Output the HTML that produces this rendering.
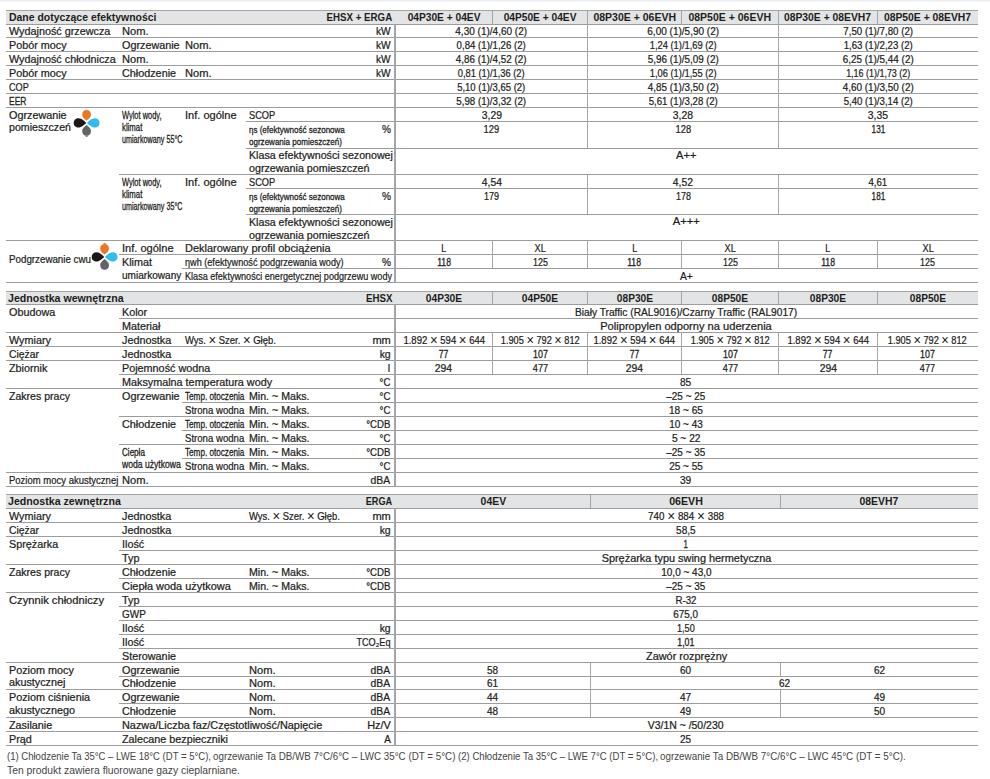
<!DOCTYPE html>
<html lang="pl"><head><meta charset="utf-8"><title>Dane techniczne</title>
<style>
html,body{margin:0;padding:0;background:#fff}
body{width:990px;height:779px;position:relative;overflow:hidden;font-family:"Liberation Sans",sans-serif;font-size:10.1px;color:#1d1d1b}
#topbar{position:absolute;left:0;top:0;width:990px;height:1px;background:#ebeef4;border-bottom:1px solid #f6f7fa}
svg{position:absolute;left:0;top:0}
.t{position:absolute;white-space:nowrap;line-height:12px;height:12px;-webkit-text-stroke:0.22px #1d1d1b}
.c{-webkit-text-stroke-width:0.28px}
.f{color:#454545;-webkit-text-stroke:0}
.b{font-weight:700;-webkit-text-stroke:0}
.x{font-size:14px;line-height:0;position:relative;top:1px;-webkit-text-stroke:0}
</style></head><body>
<div id="topbar"></div>
<svg width="990" height="779" viewBox="0 0 990 779">
<rect x="6.0" y="10.5" width="972.0" height="14.0" fill="#e3e4e5"/>
<rect x="6.0" y="291.5" width="972.0" height="13.0" fill="#e3e4e5"/>
<rect x="6.0" y="494.5" width="972.0" height="14.0" fill="#e3e4e5"/>
<line x1="6.0" y1="10.5" x2="978.0" y2="10.5" stroke="#a4a4a4" stroke-width="1.0"/>
<line x1="492.5" y1="10.5" x2="492.5" y2="24.5" stroke="#a4a4a4" stroke-width="1.0"/>
<line x1="587.5" y1="10.5" x2="587.5" y2="24.5" stroke="#a4a4a4" stroke-width="1.0"/>
<line x1="681.5" y1="10.5" x2="681.5" y2="24.5" stroke="#a4a4a4" stroke-width="1.0"/>
<line x1="778.5" y1="10.5" x2="778.5" y2="24.5" stroke="#a4a4a4" stroke-width="1.0"/>
<line x1="877.5" y1="10.5" x2="877.5" y2="24.5" stroke="#a4a4a4" stroke-width="1.0"/>
<line x1="6.0" y1="24.5" x2="978.0" y2="24.5" stroke="#9c9c9c" stroke-width="1.0"/>
<line x1="6.0" y1="37.5" x2="978.0" y2="37.5" stroke="#9c9c9c" stroke-width="1.0"/>
<line x1="6.0" y1="51.5" x2="978.0" y2="51.5" stroke="#9c9c9c" stroke-width="1.0"/>
<line x1="6.0" y1="65.5" x2="978.0" y2="65.5" stroke="#9c9c9c" stroke-width="1.0"/>
<line x1="6.0" y1="79.5" x2="978.0" y2="79.5" stroke="#9c9c9c" stroke-width="1.0"/>
<line x1="6.0" y1="93.5" x2="978.0" y2="93.5" stroke="#9c9c9c" stroke-width="1.0"/>
<line x1="6.0" y1="107.5" x2="978.0" y2="107.5" stroke="#9c9c9c" stroke-width="1.0"/>
<line x1="246.0" y1="121.5" x2="978.0" y2="121.5" stroke="#9c9c9c" stroke-width="1.0"/>
<line x1="246.0" y1="148.5" x2="978.0" y2="148.5" stroke="#9c9c9c" stroke-width="1.0"/>
<line x1="119.0" y1="174.5" x2="978.0" y2="174.5" stroke="#9c9c9c" stroke-width="1.0"/>
<line x1="246.0" y1="188.5" x2="978.0" y2="188.5" stroke="#9c9c9c" stroke-width="1.0"/>
<line x1="246.0" y1="214.5" x2="978.0" y2="214.5" stroke="#9c9c9c" stroke-width="1.0"/>
<line x1="6.0" y1="240.5" x2="978.0" y2="240.5" stroke="#9c9c9c" stroke-width="1.0"/>
<line x1="119.0" y1="254.5" x2="978.0" y2="254.5" stroke="#9c9c9c" stroke-width="1.0"/>
<line x1="182.0" y1="268.5" x2="978.0" y2="268.5" stroke="#9c9c9c" stroke-width="1.0"/>
<line x1="6.0" y1="282.5" x2="978.0" y2="282.5" stroke="#9c9c9c" stroke-width="1.0"/>
<line x1="395.0" y1="24.5" x2="395.0" y2="282.5" stroke="#a4a5a7" stroke-width="2.0"/>
<line x1="587.5" y1="24.5" x2="587.5" y2="148.5" stroke="#a6a6a6" stroke-width="1.0"/>
<line x1="587.5" y1="174.5" x2="587.5" y2="214.5" stroke="#a6a6a6" stroke-width="1.0"/>
<line x1="587.5" y1="240.5" x2="587.5" y2="268.5" stroke="#a6a6a6" stroke-width="1.0"/>
<line x1="778.5" y1="24.5" x2="778.5" y2="148.5" stroke="#a6a6a6" stroke-width="1.0"/>
<line x1="778.5" y1="174.5" x2="778.5" y2="214.5" stroke="#a6a6a6" stroke-width="1.0"/>
<line x1="778.5" y1="240.5" x2="778.5" y2="268.5" stroke="#a6a6a6" stroke-width="1.0"/>
<line x1="492.5" y1="240.5" x2="492.5" y2="268.5" stroke="#a6a6a6" stroke-width="1.0"/>
<line x1="681.5" y1="240.5" x2="681.5" y2="268.5" stroke="#a6a6a6" stroke-width="1.0"/>
<line x1="877.5" y1="240.5" x2="877.5" y2="268.5" stroke="#a6a6a6" stroke-width="1.0"/>
<line x1="6.0" y1="291.5" x2="978.0" y2="291.5" stroke="#a4a4a4" stroke-width="1.0"/>
<line x1="492.5" y1="291.5" x2="492.5" y2="304.5" stroke="#a4a4a4" stroke-width="1.0"/>
<line x1="587.5" y1="291.5" x2="587.5" y2="304.5" stroke="#a4a4a4" stroke-width="1.0"/>
<line x1="681.5" y1="291.5" x2="681.5" y2="304.5" stroke="#a4a4a4" stroke-width="1.0"/>
<line x1="778.5" y1="291.5" x2="778.5" y2="304.5" stroke="#a4a4a4" stroke-width="1.0"/>
<line x1="877.5" y1="291.5" x2="877.5" y2="304.5" stroke="#a4a4a4" stroke-width="1.0"/>
<line x1="6.0" y1="304.5" x2="978.0" y2="304.5" stroke="#9c9c9c" stroke-width="1.0"/>
<line x1="119.0" y1="318.5" x2="978.0" y2="318.5" stroke="#9c9c9c" stroke-width="1.0"/>
<line x1="6.0" y1="332.5" x2="978.0" y2="332.5" stroke="#9c9c9c" stroke-width="1.0"/>
<line x1="6.0" y1="346.5" x2="978.0" y2="346.5" stroke="#9c9c9c" stroke-width="1.0"/>
<line x1="6.0" y1="360.5" x2="978.0" y2="360.5" stroke="#9c9c9c" stroke-width="1.0"/>
<line x1="119.0" y1="374.5" x2="978.0" y2="374.5" stroke="#9c9c9c" stroke-width="1.0"/>
<line x1="6.0" y1="388.5" x2="978.0" y2="388.5" stroke="#9c9c9c" stroke-width="1.0"/>
<line x1="182.0" y1="402.5" x2="978.0" y2="402.5" stroke="#9c9c9c" stroke-width="1.0"/>
<line x1="119.0" y1="416.5" x2="978.0" y2="416.5" stroke="#9c9c9c" stroke-width="1.0"/>
<line x1="182.0" y1="430.5" x2="978.0" y2="430.5" stroke="#9c9c9c" stroke-width="1.0"/>
<line x1="119.0" y1="444.5" x2="978.0" y2="444.5" stroke="#9c9c9c" stroke-width="1.0"/>
<line x1="182.0" y1="458.5" x2="978.0" y2="458.5" stroke="#9c9c9c" stroke-width="1.0"/>
<line x1="6.0" y1="472.5" x2="978.0" y2="472.5" stroke="#9c9c9c" stroke-width="1.0"/>
<line x1="6.0" y1="486.5" x2="978.0" y2="486.5" stroke="#9c9c9c" stroke-width="1.0"/>
<line x1="395.0" y1="304.5" x2="395.0" y2="486.5" stroke="#a4a5a7" stroke-width="2.0"/>
<line x1="492.5" y1="332.5" x2="492.5" y2="374.5" stroke="#a6a6a6" stroke-width="1.0"/>
<line x1="587.5" y1="332.5" x2="587.5" y2="374.5" stroke="#a6a6a6" stroke-width="1.0"/>
<line x1="681.5" y1="332.5" x2="681.5" y2="374.5" stroke="#a6a6a6" stroke-width="1.0"/>
<line x1="778.5" y1="332.5" x2="778.5" y2="374.5" stroke="#a6a6a6" stroke-width="1.0"/>
<line x1="877.5" y1="332.5" x2="877.5" y2="374.5" stroke="#a6a6a6" stroke-width="1.0"/>
<line x1="6.0" y1="494.5" x2="978.0" y2="494.5" stroke="#a4a4a4" stroke-width="1.0"/>
<line x1="590.5" y1="494.5" x2="590.5" y2="508.5" stroke="#a4a4a4" stroke-width="1.0"/>
<line x1="780.5" y1="494.5" x2="780.5" y2="508.5" stroke="#a4a4a4" stroke-width="1.0"/>
<line x1="6.0" y1="508.5" x2="978.0" y2="508.5" stroke="#9c9c9c" stroke-width="1.0"/>
<line x1="6.0" y1="522.5" x2="978.0" y2="522.5" stroke="#9c9c9c" stroke-width="1.0"/>
<line x1="6.0" y1="536.5" x2="978.0" y2="536.5" stroke="#9c9c9c" stroke-width="1.0"/>
<line x1="119.0" y1="550.5" x2="978.0" y2="550.5" stroke="#9c9c9c" stroke-width="1.0"/>
<line x1="6.0" y1="564.5" x2="978.0" y2="564.5" stroke="#9c9c9c" stroke-width="1.0"/>
<line x1="119.0" y1="578.5" x2="978.0" y2="578.5" stroke="#9c9c9c" stroke-width="1.0"/>
<line x1="6.0" y1="592.5" x2="978.0" y2="592.5" stroke="#9c9c9c" stroke-width="1.0"/>
<line x1="119.0" y1="606.5" x2="978.0" y2="606.5" stroke="#9c9c9c" stroke-width="1.0"/>
<line x1="119.0" y1="620.5" x2="978.0" y2="620.5" stroke="#9c9c9c" stroke-width="1.0"/>
<line x1="119.0" y1="634.5" x2="978.0" y2="634.5" stroke="#9c9c9c" stroke-width="1.0"/>
<line x1="119.0" y1="648.5" x2="978.0" y2="648.5" stroke="#9c9c9c" stroke-width="1.0"/>
<line x1="6.0" y1="662.5" x2="978.0" y2="662.5" stroke="#9c9c9c" stroke-width="1.0"/>
<line x1="119.0" y1="676.5" x2="978.0" y2="676.5" stroke="#9c9c9c" stroke-width="1.0"/>
<line x1="6.0" y1="689.5" x2="978.0" y2="689.5" stroke="#9c9c9c" stroke-width="1.0"/>
<line x1="119.0" y1="703.5" x2="978.0" y2="703.5" stroke="#9c9c9c" stroke-width="1.0"/>
<line x1="6.0" y1="717.5" x2="978.0" y2="717.5" stroke="#9c9c9c" stroke-width="1.0"/>
<line x1="6.0" y1="731.5" x2="978.0" y2="731.5" stroke="#9c9c9c" stroke-width="1.0"/>
<line x1="6.0" y1="745.5" x2="978.0" y2="745.5" stroke="#9c9c9c" stroke-width="1.0"/>
<line x1="395.0" y1="508.5" x2="395.0" y2="745.5" stroke="#a4a5a7" stroke-width="2.0"/>
<line x1="590.5" y1="662.5" x2="590.5" y2="717.5" stroke="#a6a6a6" stroke-width="1.0"/>
<line x1="780.5" y1="662.5" x2="780.5" y2="676.5" stroke="#a6a6a6" stroke-width="1.0"/>
<line x1="780.5" y1="689.5" x2="780.5" y2="717.5" stroke="#a6a6a6" stroke-width="1.0"/>
<g transform="translate(86.6,122.9)"><path d="M0,-2.2 C-1.5,-3.40 -4.4,-5.30 -4.4,-8.3 C-4.4,-10.80 -2.64,-12.9 0,-12.9 C2.64,-12.9 4.4,-10.80 4.4,-8.3 C4.4,-5.30 1.5,-3.40 0,-2.2 Z" fill="#ee7623"/><path d="M0,-0.5 C-1.5,-1.70 -4.6,-5.20 -4.6,-8.2 C-4.6,-10.70 -2.76,-12.9 0,-12.9 C2.76,-12.9 4.6,-10.70 4.6,-8.2 C4.6,-5.20 1.5,-1.70 0,-0.5 Z" fill="#2fbcee" transform="rotate(90)"/><path d="M0,-2.2 C-1.5,-3.40 -4.4,-5.30 -4.4,-8.3 C-4.4,-10.80 -2.64,-12.9 0,-12.9 C2.64,-12.9 4.4,-10.80 4.4,-8.3 C4.4,-5.30 1.5,-3.40 0,-2.2 Z" fill="#636467" transform="rotate(180)"/><rect x="-1.1" y="12.5" width="2.2" height="1.4" rx="0.5" fill="#636467"/><path d="M0,-0.5 C-1.5,-1.70 -4.6,-5.20 -4.6,-8.2 C-4.6,-10.70 -2.76,-12.9 0,-12.9 C2.76,-12.9 4.6,-10.70 4.6,-8.2 C4.6,-5.20 1.5,-1.70 0,-0.5 Z" fill="#1a1718" transform="rotate(270)"/></g><g transform="translate(104.6,256.9)"><path d="M0,-2.2 C-1.5,-3.40 -4.4,-5.30 -4.4,-8.3 C-4.4,-10.80 -2.64,-12.9 0,-12.9 C2.64,-12.9 4.4,-10.80 4.4,-8.3 C4.4,-5.30 1.5,-3.40 0,-2.2 Z" fill="#ee7623"/><rect x="-1.1" y="-13.8" width="2.2" height="1.4" rx="0.5" fill="#ee7623"/><path d="M0,-0.5 C-1.5,-1.70 -4.6,-5.20 -4.6,-8.2 C-4.6,-10.70 -2.76,-12.9 0,-12.9 C2.76,-12.9 4.6,-10.70 4.6,-8.2 C4.6,-5.20 1.5,-1.70 0,-0.5 Z" fill="#2fbcee" transform="rotate(90)"/><path d="M0,-2.2 C-1.5,-3.40 -4.4,-5.30 -4.4,-8.3 C-4.4,-10.80 -2.64,-12.9 0,-12.9 C2.64,-12.9 4.4,-10.80 4.4,-8.3 C4.4,-5.30 1.5,-3.40 0,-2.2 Z" fill="#636467" transform="rotate(180)"/><path d="M0,-0.5 C-1.5,-1.70 -4.6,-5.20 -4.6,-8.2 C-4.6,-10.70 -2.76,-12.9 0,-12.9 C2.76,-12.9 4.6,-10.70 4.6,-8.2 C4.6,-5.20 1.5,-1.70 0,-0.5 Z" fill="#1a1718" transform="rotate(270)"/></g>
</svg>
<span class="t b" style="left:8.60px;top:12.00px;transform:scaleX(1.0351);transform-origin:0 50%">Dane dotyczące efektywności</span>
<span class="t b" style="left:324.44px;top:12.00px;transform:scaleX(0.9625);transform-origin:100% 50%">EHSX + ERGA</span>
<span class="t b" style="left:407.79px;top:12.00px;transform:scaleX(1.0094);transform-origin:50% 50%">04P30E + 04EV</span>
<span class="t b" style="left:503.94px;top:12.00px;transform:scaleX(1.0094);transform-origin:50% 50%">04P50E + 04EV</span>
<span class="t b" style="left:594.80px;top:12.00px;transform:scaleX(1.0390);transform-origin:50% 50%">08P30E + 06EVH</span>
<span class="t b" style="left:690.30px;top:12.00px;transform:scaleX(1.0390);transform-origin:50% 50%">08P50E + 06EVH</span>
<span class="t b" style="left:785.48px;top:12.00px;transform:scaleX(1.0255);transform-origin:50% 50%">08P30E + 08EVH7</span>
<span class="t b" style="left:885.23px;top:12.00px;transform:scaleX(1.0255);transform-origin:50% 50%">08P50E + 08EVH7</span>
<span class="t" style="left:8.50px;top:26.00px;transform:scaleX(1.0700);transform-origin:0 50%">Wydajność grzewcza</span>
<span class="t" style="left:122.00px;top:26.00px;transform:scaleX(1.1026);transform-origin:0 50%">Nom.</span>
<span class="t" style="left:375.82px;top:26.00px;transform:scaleX(1.0015);transform-origin:100% 50%">kW</span>
<span class="t" style="left:455.15px;top:26.00px;transform:scaleX(0.9918);transform-origin:50% 50%">4,30 (1)/4,60 (2)</span>
<span class="t" style="left:646.80px;top:26.00px;transform:scaleX(0.9918);transform-origin:50% 50%">6,00 (1)/5,90 (2)</span>
<span class="t" style="left:842.05px;top:26.00px;transform:scaleX(0.9642);transform-origin:50% 50%">7,50 (1)/7,80 (2)</span>
<span class="t" style="left:8.50px;top:40.00px;transform:scaleX(1.0700);transform-origin:0 50%">Pobór mocy</span>
<span class="t" style="left:122.00px;top:40.00px;transform:scaleX(1.0700);transform-origin:0 50%">Ogrzewanie</span>
<span class="t" style="left:185.00px;top:40.00px;transform:scaleX(1.1026);transform-origin:0 50%">Nom.</span>
<span class="t" style="left:375.82px;top:40.00px;transform:scaleX(1.0015);transform-origin:100% 50%">kW</span>
<span class="t" style="left:455.15px;top:40.00px;transform:scaleX(0.9559);transform-origin:50% 50%">0,84 (1)/1,26 (2)</span>
<span class="t" style="left:646.80px;top:40.00px;transform:scaleX(0.9255);transform-origin:50% 50%">1,24 (1)/1,69 (2)</span>
<span class="t" style="left:842.05px;top:40.00px;transform:scaleX(0.9532);transform-origin:50% 50%">1,63 (1)/2,23 (2)</span>
<span class="t" style="left:8.50px;top:54.00px;transform:scaleX(1.0700);transform-origin:0 50%">Wydajność chłodnicza</span>
<span class="t" style="left:122.00px;top:54.00px;transform:scaleX(1.1026);transform-origin:0 50%">Nom.</span>
<span class="t" style="left:375.82px;top:54.00px;transform:scaleX(1.0015);transform-origin:100% 50%">kW</span>
<span class="t" style="left:455.15px;top:54.00px;transform:scaleX(0.9780);transform-origin:50% 50%">4,86 (1)/4,52 (2)</span>
<span class="t" style="left:646.80px;top:54.00px;transform:scaleX(0.9808);transform-origin:50% 50%">5,96 (1)/5,09 (2)</span>
<span class="t" style="left:842.05px;top:54.00px;transform:scaleX(0.9808);transform-origin:50% 50%">6,25 (1)/5,44 (2)</span>
<span class="t" style="left:8.50px;top:68.00px;transform:scaleX(1.0700);transform-origin:0 50%">Pobór mocy</span>
<span class="t" style="left:122.00px;top:68.00px;transform:scaleX(1.0700);transform-origin:0 50%">Chłodzenie</span>
<span class="t" style="left:185.00px;top:68.00px;transform:scaleX(1.1026);transform-origin:0 50%">Nom.</span>
<span class="t" style="left:375.82px;top:68.00px;transform:scaleX(1.0015);transform-origin:100% 50%">kW</span>
<span class="t" style="left:455.15px;top:68.00px;transform:scaleX(0.9255);transform-origin:50% 50%">0,81 (1)/1,36 (2)</span>
<span class="t" style="left:646.80px;top:68.00px;transform:scaleX(0.9255);transform-origin:50% 50%">1,06 (1)/1,55 (2)</span>
<span class="t" style="left:842.05px;top:68.00px;transform:scaleX(0.8855);transform-origin:50% 50%">1,16 (1)/1,73 (2)</span>
<span class="t" style="left:8.50px;top:82.00px;transform:scaleX(0.9051);transform-origin:0 50%">COP</span>
<span class="t" style="left:455.15px;top:82.00px;transform:scaleX(0.9407);transform-origin:50% 50%">5,10 (1)/3,65 (2)</span>
<span class="t" style="left:646.80px;top:82.00px;transform:scaleX(0.9808);transform-origin:50% 50%">4,85 (1)/3,50 (2)</span>
<span class="t" style="left:842.05px;top:82.00px;transform:scaleX(0.9808);transform-origin:50% 50%">4,60 (1)/3,50 (2)</span>
<span class="t c" style="left:8.50px;top:96.00px;transform:scaleX(0.8379);transform-origin:0 50%">EER</span>
<span class="t" style="left:455.15px;top:96.00px;transform:scaleX(0.9642);transform-origin:50% 50%">5,98 (1)/3,32 (2)</span>
<span class="t" style="left:646.80px;top:96.00px;transform:scaleX(0.9532);transform-origin:50% 50%">5,61 (1)/3,28 (2)</span>
<span class="t" style="left:842.05px;top:96.00px;transform:scaleX(0.9532);transform-origin:50% 50%">5,40 (1)/3,14 (2)</span>
<span class="t" style="left:9.00px;top:110.00px;transform:scaleX(1.0700);transform-origin:0 50%">Ogrzewanie</span>
<span class="t" style="left:9.00px;top:122.00px;transform:scaleX(1.0522);transform-origin:0 50%">pomieszczeń</span>
<span class="t c" style="left:121.60px;top:110.00px;transform:scaleX(0.7391);transform-origin:0 50%">Wylot wody,</span>
<span class="t c" style="left:121.60px;top:122.00px;transform:scaleX(0.7701);transform-origin:0 50%">klimat</span>
<span class="t c" style="left:121.60px;top:134.00px;transform:scaleX(0.7132);transform-origin:0 50%">umiarkowany 55°C</span>
<span class="t" style="left:185.00px;top:110.00px;transform:scaleX(1.0942);transform-origin:0 50%">Inf. ogólne</span>
<span class="t" style="left:249.00px;top:110.00px;transform:scaleX(0.9158);transform-origin:0 50%">SCOP</span>
<span class="t c" style="left:249.00px;top:124.17px;transform:scaleX(0.8355);transform-origin:0 50%;font-size:9.6px">ηs (efektywność sezonowa</span>
<span class="t c" style="left:249.00px;top:136.17px;transform:scaleX(0.8375);transform-origin:0 50%;font-size:9.6px">ogrzewania pomieszczeń)</span>
<span class="t" style="left:381.82px;top:124.00px;transform:scaleX(1.0017);transform-origin:100% 50%">%</span>
<span class="t" style="left:249.00px;top:150.00px;transform:scaleX(1.0554);transform-origin:0 50%">Klasa efektywności sezonowej</span>
<span class="t" style="left:249.00px;top:163.00px;transform:scaleX(1.0631);transform-origin:0 50%">ogrzewania pomieszczeń</span>
<span class="t c" style="left:121.60px;top:177.00px;transform:scaleX(0.7391);transform-origin:0 50%">Wylot wody,</span>
<span class="t c" style="left:121.60px;top:189.00px;transform:scaleX(0.7701);transform-origin:0 50%">klimat</span>
<span class="t c" style="left:121.60px;top:201.00px;transform:scaleX(0.7132);transform-origin:0 50%">umiarkowany 35°C</span>
<span class="t" style="left:185.00px;top:177.00px;transform:scaleX(1.0942);transform-origin:0 50%">Inf. ogólne</span>
<span class="t" style="left:249.00px;top:177.00px;transform:scaleX(0.9158);transform-origin:0 50%">SCOP</span>
<span class="t c" style="left:249.00px;top:191.17px;transform:scaleX(0.8355);transform-origin:0 50%;font-size:9.6px">ηs (efektywność sezonowa</span>
<span class="t c" style="left:249.00px;top:203.17px;transform:scaleX(0.8375);transform-origin:0 50%;font-size:9.6px">ogrzewania pomieszczeń)</span>
<span class="t" style="left:381.82px;top:191.00px;transform:scaleX(1.0017);transform-origin:100% 50%">%</span>
<span class="t" style="left:249.00px;top:217.00px;transform:scaleX(1.0554);transform-origin:0 50%">Klasa efektywności sezonowej</span>
<span class="t" style="left:249.00px;top:230.00px;transform:scaleX(1.0631);transform-origin:0 50%">ogrzewania pomieszczeń</span>
<span class="t" style="left:481.52px;top:110.00px;transform:scaleX(1.0277);transform-origin:50% 50%">3,29</span>
<span class="t" style="left:673.17px;top:110.00px;transform:scaleX(1.0277);transform-origin:50% 50%">3,28</span>
<span class="t" style="left:868.42px;top:110.00px;transform:scaleX(1.0277);transform-origin:50% 50%">3,35</span>
<span class="t" style="left:482.93px;top:124.00px;transform:scaleX(0.9262);transform-origin:50% 50%">129</span>
<span class="t" style="left:674.58px;top:124.00px;transform:scaleX(0.9262);transform-origin:50% 50%">128</span>
<span class="t c" style="left:869.83px;top:124.00px;transform:scaleX(0.8074);transform-origin:50% 50%">131</span>
<span class="t" style="left:676.83px;top:150.00px;transform:scaleX(1.0954);transform-origin:50% 50%">A++</span>
<span class="t" style="left:481.52px;top:177.00px;transform:scaleX(1.0277);transform-origin:50% 50%">4,54</span>
<span class="t" style="left:673.17px;top:177.00px;transform:scaleX(1.0277);transform-origin:50% 50%">4,52</span>
<span class="t" style="left:868.42px;top:177.00px;transform:scaleX(0.9564);transform-origin:50% 50%">4,61</span>
<span class="t" style="left:482.93px;top:191.00px;transform:scaleX(0.8905);transform-origin:50% 50%">179</span>
<span class="t" style="left:674.58px;top:191.00px;transform:scaleX(0.8905);transform-origin:50% 50%">178</span>
<span class="t c" style="left:869.83px;top:191.00px;transform:scaleX(0.8074);transform-origin:50% 50%">181</span>
<span class="t" style="left:673.89px;top:216.00px;transform:scaleX(1.1056);transform-origin:50% 50%">A+++</span>
<span class="t" style="left:8.70px;top:254.00px;transform:scaleX(0.9677);transform-origin:0 50%">Podgrzewanie cwu</span>
<span class="t" style="left:122.00px;top:243.00px;transform:scaleX(1.0942);transform-origin:0 50%">Inf. ogólne</span>
<span class="t" style="left:185.00px;top:243.00px;transform:scaleX(1.0858);transform-origin:0 50%">Deklarowany profil obciążenia</span>
<span class="t" style="left:441.04px;top:243.00px;transform:scaleX(0.8889);transform-origin:50% 50%">L</span>
<span class="t" style="left:533.82px;top:243.00px;transform:scaleX(0.9143);transform-origin:50% 50%">XL</span>
<span class="t" style="left:631.69px;top:243.00px;transform:scaleX(0.8889);transform-origin:50% 50%">L</span>
<span class="t" style="left:723.82px;top:243.00px;transform:scaleX(0.9143);transform-origin:50% 50%">XL</span>
<span class="t" style="left:825.19px;top:243.00px;transform:scaleX(0.8889);transform-origin:50% 50%">L</span>
<span class="t" style="left:921.57px;top:243.00px;transform:scaleX(0.9143);transform-origin:50% 50%">XL</span>
<span class="t" style="left:122.00px;top:257.00px;transform:scaleX(1.0700);transform-origin:0 50%">Klimat</span>
<span class="t" style="left:185.00px;top:257.00px;transform:scaleX(0.9031);transform-origin:0 50%">ηwh (efektywność podgrzewania wody)</span>
<span class="t" style="left:381.82px;top:257.00px;transform:scaleX(1.0017);transform-origin:100% 50%">%</span>
<span class="t c" style="left:435.80px;top:257.00px;transform:scaleX(0.8575);transform-origin:50% 50%">118</span>
<span class="t" style="left:531.58px;top:257.00px;transform:scaleX(0.8846);transform-origin:50% 50%">125</span>
<span class="t c" style="left:626.45px;top:257.00px;transform:scaleX(0.8575);transform-origin:50% 50%">118</span>
<span class="t" style="left:721.58px;top:257.00px;transform:scaleX(0.8846);transform-origin:50% 50%">125</span>
<span class="t c" style="left:819.95px;top:257.00px;transform:scaleX(0.8575);transform-origin:50% 50%">118</span>
<span class="t" style="left:919.33px;top:257.00px;transform:scaleX(0.8846);transform-origin:50% 50%">125</span>
<span class="t" style="left:122.00px;top:270.00px;transform:scaleX(0.9972);transform-origin:0 50%">umiarkowany</span>
<span class="t" style="left:185.00px;top:271.00px;transform:scaleX(0.8998);transform-origin:0 50%">Klasa efektywności energetycznej podgrzewu wody</span>
<span class="t" style="left:679.78px;top:271.00px;transform:scaleX(1.0126);transform-origin:50% 50%">A+</span>
<span class="t b" style="left:8.20px;top:293.00px;transform:scaleX(1.0514);transform-origin:0 50%">Jednostka wewnętrzna</span>
<span class="t b" style="left:365.10px;top:293.00px;transform:scaleX(0.9636);transform-origin:100% 50%">EHSX</span>
<span class="t b" style="left:425.89px;top:293.00px;transform:scaleX(1.0077);transform-origin:50% 50%">04P30E</span>
<span class="t b" style="left:522.04px;top:293.00px;transform:scaleX(1.0077);transform-origin:50% 50%">04P50E</span>
<span class="t b" style="left:616.54px;top:293.00px;transform:scaleX(1.0077);transform-origin:50% 50%">08P30E</span>
<span class="t b" style="left:712.04px;top:293.00px;transform:scaleX(1.0077);transform-origin:50% 50%">08P50E</span>
<span class="t b" style="left:810.04px;top:293.00px;transform:scaleX(1.0077);transform-origin:50% 50%">08P30E</span>
<span class="t b" style="left:909.79px;top:293.00px;transform:scaleX(1.0077);transform-origin:50% 50%">08P50E</span>
<span class="t" style="left:8.50px;top:307.00px;transform:scaleX(1.0700);transform-origin:0 50%">Obudowa</span>
<span class="t" style="left:122.00px;top:307.00px;transform:scaleX(1.0700);transform-origin:0 50%">Kolor</span>
<span class="t" style="left:576.05px;top:307.00px;transform:scaleX(1.0095);transform-origin:50% 50%">Biały Traffic (RAL9016)/Czarny Traffic (RAL9017)</span>
<span class="t" style="left:122.00px;top:321.00px;transform:scaleX(1.0700);transform-origin:0 50%">Materiał</span>
<span class="t" style="left:608.10px;top:321.00px;transform:scaleX(1.1000);transform-origin:50% 50%">Polipropylen odporny na uderzenia</span>
<span class="t" style="left:8.50px;top:335.00px;transform:scaleX(1.0700);transform-origin:0 50%">Wymiary</span>
<span class="t" style="left:122.00px;top:335.00px;transform:scaleX(1.0700);transform-origin:0 50%">Jednostka</span>
<span class="t" style="left:185.00px;top:335.00px;transform:scaleX(0.9352);transform-origin:0 50%">Wys. <span class="x">×</span> Szer. <span class="x">×</span> Głęb.</span>
<span class="t" style="left:373.57px;top:335.00px;transform:scaleX(1.0934);transform-origin:100% 50%">mm</span>
<span class="t" style="left:400.57px;top:335.00px;transform:scaleX(0.9450);transform-origin:50% 50%">1.892 <span class="x">×</span> 594 <span class="x">×</span> 644</span>
<span class="t" style="left:496.72px;top:335.00px;transform:scaleX(0.9115);transform-origin:50% 50%">1.905 <span class="x">×</span> 792 <span class="x">×</span> 812</span>
<span class="t" style="left:591.22px;top:335.00px;transform:scaleX(0.9450);transform-origin:50% 50%">1.892 <span class="x">×</span> 594 <span class="x">×</span> 644</span>
<span class="t" style="left:686.72px;top:335.00px;transform:scaleX(0.9115);transform-origin:50% 50%">1.905 <span class="x">×</span> 792 <span class="x">×</span> 812</span>
<span class="t" style="left:784.72px;top:335.00px;transform:scaleX(0.9450);transform-origin:50% 50%">1.892 <span class="x">×</span> 594 <span class="x">×</span> 644</span>
<span class="t" style="left:884.47px;top:335.00px;transform:scaleX(0.9115);transform-origin:50% 50%">1.905 <span class="x">×</span> 792 <span class="x">×</span> 812</span>
<span class="t" style="left:8.50px;top:349.00px;transform:scaleX(1.0284);transform-origin:0 50%">Ciężar</span>
<span class="t" style="left:122.00px;top:349.00px;transform:scaleX(1.0700);transform-origin:0 50%">Jednostka</span>
<span class="t" style="left:379.73px;top:349.00px;transform:scaleX(1.0307);transform-origin:100% 50%">kg</span>
<span class="t c" style="left:438.23px;top:349.00px;transform:scaleX(0.8545);transform-origin:50% 50%">77</span>
<span class="t c" style="left:531.58px;top:349.00px;transform:scaleX(0.8787);transform-origin:50% 50%">107</span>
<span class="t c" style="left:628.88px;top:349.00px;transform:scaleX(0.8545);transform-origin:50% 50%">77</span>
<span class="t c" style="left:721.58px;top:349.00px;transform:scaleX(0.8787);transform-origin:50% 50%">107</span>
<span class="t c" style="left:822.38px;top:349.00px;transform:scaleX(0.8545);transform-origin:50% 50%">77</span>
<span class="t c" style="left:919.33px;top:349.00px;transform:scaleX(0.8787);transform-origin:50% 50%">107</span>
<span class="t" style="left:8.50px;top:363.00px;transform:scaleX(1.0700);transform-origin:0 50%">Zbiornik</span>
<span class="t" style="left:122.00px;top:363.00px;transform:scaleX(1.0700);transform-origin:0 50%">Pojemność wodna</span>
<span class="t" style="left:388.15px;top:363.00px;transform:scaleX(1.0667);transform-origin:100% 50%">l</span>
<span class="t" style="left:435.43px;top:363.00px;transform:scaleX(1.0271);transform-origin:50% 50%">294</span>
<span class="t" style="left:531.58px;top:363.00px;transform:scaleX(0.9024);transform-origin:50% 50%">477</span>
<span class="t" style="left:626.08px;top:363.00px;transform:scaleX(1.0271);transform-origin:50% 50%">294</span>
<span class="t" style="left:721.58px;top:363.00px;transform:scaleX(0.9024);transform-origin:50% 50%">477</span>
<span class="t" style="left:819.58px;top:363.00px;transform:scaleX(1.0271);transform-origin:50% 50%">294</span>
<span class="t" style="left:919.33px;top:363.00px;transform:scaleX(0.9024);transform-origin:50% 50%">477</span>
<span class="t" style="left:122.00px;top:377.00px;transform:scaleX(1.0700);transform-origin:0 50%">Maksymalna temperatura wody</span>
<span class="t" style="left:379.07px;top:377.00px;transform:scaleX(0.9534);transform-origin:100% 50%">°C</span>
<span class="t" style="left:680.48px;top:377.00px;transform:scaleX(1.0058);transform-origin:50% 50%">85</span>
<span class="t" style="left:8.50px;top:391.00px;transform:scaleX(1.0455);transform-origin:0 50%">Zakres pracy</span>
<span class="t" style="left:122.00px;top:391.00px;transform:scaleX(1.0700);transform-origin:0 50%">Ogrzewanie</span>
<span class="t c" style="left:185.00px;top:391.00px;transform:scaleX(0.8068);transform-origin:0 50%">Temp. otoczenia</span>
<span class="t" style="left:248.80px;top:391.00px;transform:scaleX(1.0522);transform-origin:0 50%">Min. ~ Maks.</span>
<span class="t" style="left:379.07px;top:391.00px;transform:scaleX(0.9534);transform-origin:100% 50%">°C</span>
<span class="t" style="left:666.31px;top:391.00px;transform:scaleX(0.9829);transform-origin:50% 50%">–25 ~ 25</span>
<span class="t" style="left:185.00px;top:405.00px;transform:scaleX(0.9519);transform-origin:0 50%">Strona wodna</span>
<span class="t" style="left:248.80px;top:405.00px;transform:scaleX(1.0522);transform-origin:0 50%">Min. ~ Maks.</span>
<span class="t" style="left:379.07px;top:405.00px;transform:scaleX(0.9534);transform-origin:100% 50%">°C</span>
<span class="t" style="left:669.12px;top:405.00px;transform:scaleX(1.0009);transform-origin:50% 50%">18 ~ 65</span>
<span class="t" style="left:122.00px;top:419.00px;transform:scaleX(1.0700);transform-origin:0 50%">Chłodzenie</span>
<span class="t c" style="left:185.00px;top:419.00px;transform:scaleX(0.8068);transform-origin:0 50%">Temp. otoczenia</span>
<span class="t" style="left:248.80px;top:419.00px;transform:scaleX(1.0522);transform-origin:0 50%">Min. ~ Maks.</span>
<span class="t" style="left:365.04px;top:419.00px;transform:scaleX(0.9543);transform-origin:100% 50%">°CDB</span>
<span class="t" style="left:669.12px;top:419.00px;transform:scaleX(0.9891);transform-origin:50% 50%">10 ~ 43</span>
<span class="t" style="left:185.00px;top:433.00px;transform:scaleX(0.9519);transform-origin:0 50%">Strona wodna</span>
<span class="t" style="left:248.80px;top:433.00px;transform:scaleX(1.0522);transform-origin:0 50%">Min. ~ Maks.</span>
<span class="t" style="left:379.07px;top:433.00px;transform:scaleX(0.9534);transform-origin:100% 50%">°C</span>
<span class="t" style="left:671.92px;top:433.00px;transform:scaleX(1.0085);transform-origin:50% 50%">5 ~ 22</span>
<span class="t c" style="left:122.00px;top:447.00px;transform:scaleX(0.8000);transform-origin:0 50%">Ciepła</span>
<span class="t c" style="left:185.00px;top:447.00px;transform:scaleX(0.8068);transform-origin:0 50%">Temp. otoczenia</span>
<span class="t" style="left:248.80px;top:447.00px;transform:scaleX(1.0522);transform-origin:0 50%">Min. ~ Maks.</span>
<span class="t" style="left:365.04px;top:447.00px;transform:scaleX(0.9543);transform-origin:100% 50%">°CDB</span>
<span class="t" style="left:666.31px;top:447.00px;transform:scaleX(0.9829);transform-origin:50% 50%">–25 ~ 35</span>
<span class="t c" style="left:122.00px;top:459.00px;transform:scaleX(0.8520);transform-origin:0 50%">woda użytkowa</span>
<span class="t" style="left:185.00px;top:461.00px;transform:scaleX(0.9519);transform-origin:0 50%">Strona wodna</span>
<span class="t" style="left:248.80px;top:461.00px;transform:scaleX(1.0522);transform-origin:0 50%">Min. ~ Maks.</span>
<span class="t" style="left:379.07px;top:461.00px;transform:scaleX(0.9534);transform-origin:100% 50%">°C</span>
<span class="t" style="left:669.12px;top:461.00px;transform:scaleX(0.9921);transform-origin:50% 50%">25 ~ 55</span>
<span class="t" style="left:8.50px;top:475.00px;transform:scaleX(0.9412);transform-origin:0 50%">Poziom mocy akustycznej</span>
<span class="t" style="left:122.00px;top:475.00px;transform:scaleX(1.1026);transform-origin:0 50%">Nom.</span>
<span class="t" style="left:371.31px;top:475.00px;transform:scaleX(1.0265);transform-origin:100% 50%">dBA</span>
<span class="t" style="left:680.48px;top:475.00px;transform:scaleX(1.0058);transform-origin:50% 50%">39</span>
<span class="t b" style="left:8.20px;top:496.00px;transform:scaleX(1.0528);transform-origin:0 50%">Jednostka zewnętrzna</span>
<span class="t b" style="left:363.43px;top:496.00px;transform:scaleX(0.9084);transform-origin:100% 50%">ERGA</span>
<span class="t b" style="left:480.50px;top:496.00px;transform:scaleX(1.0323);transform-origin:50% 50%">04EV</span>
<span class="t b" style="left:669.51px;top:496.00px;transform:scaleX(1.0536);transform-origin:50% 50%">06EVH</span>
<span class="t b" style="left:860.45px;top:496.00px;transform:scaleX(1.0317);transform-origin:50% 50%">08EVH7</span>
<span class="t" style="left:8.50px;top:511.00px;transform:scaleX(1.0700);transform-origin:0 50%">Wymiary</span>
<span class="t" style="left:122.00px;top:511.00px;transform:scaleX(1.0700);transform-origin:0 50%">Jednostka</span>
<span class="t" style="left:249.00px;top:511.00px;transform:scaleX(0.9352);transform-origin:0 50%">Wys. <span class="x">×</span> Szer. <span class="x">×</span> Głęb.</span>
<span class="t" style="left:373.57px;top:511.00px;transform:scaleX(1.0934);transform-origin:100% 50%">mm</span>
<span class="t" style="left:647.03px;top:511.00px;transform:scaleX(0.9726);transform-origin:50% 50%">740 <span class="x">×</span> 884 <span class="x">×</span> 388</span>
<span class="t" style="left:8.50px;top:525.00px;transform:scaleX(1.0284);transform-origin:0 50%">Ciężar</span>
<span class="t" style="left:122.00px;top:525.00px;transform:scaleX(1.0700);transform-origin:0 50%">Jednostka</span>
<span class="t" style="left:379.73px;top:525.00px;transform:scaleX(1.0307);transform-origin:100% 50%">kg</span>
<span class="t" style="left:676.27px;top:525.00px;transform:scaleX(0.9921);transform-origin:50% 50%">58,5</span>
<span class="t" style="left:8.50px;top:539.00px;transform:scaleX(1.0700);transform-origin:0 50%">Sprężarka</span>
<span class="t" style="left:122.00px;top:539.00px;transform:scaleX(1.0700);transform-origin:0 50%">Ilość</span>
<span class="t c" style="left:683.29px;top:539.00px;transform:scaleX(0.7822);transform-origin:50% 50%">1</span>
<span class="t" style="left:122.00px;top:553.00px;transform:scaleX(1.0700);transform-origin:0 50%">Typ</span>
<span class="t" style="left:607.55px;top:553.00px;transform:scaleX(1.0809);transform-origin:50% 50%">Sprężarka typu swing hermetyczna</span>
<span class="t" style="left:8.50px;top:567.00px;transform:scaleX(1.0455);transform-origin:0 50%">Zakres pracy</span>
<span class="t" style="left:122.00px;top:567.00px;transform:scaleX(1.0700);transform-origin:0 50%">Chłodzenie</span>
<span class="t" style="left:249.00px;top:567.00px;transform:scaleX(1.0522);transform-origin:0 50%">Min. ~ Maks.</span>
<span class="t" style="left:365.04px;top:567.00px;transform:scaleX(0.9543);transform-origin:100% 50%">°CDB</span>
<span class="t" style="left:660.70px;top:567.00px;transform:scaleX(0.9902);transform-origin:50% 50%">10,0 ~ 43,0</span>
<span class="t" style="left:122.00px;top:581.00px;transform:scaleX(1.0833);transform-origin:0 50%">Ciepła woda użytkowa</span>
<span class="t" style="left:249.00px;top:581.00px;transform:scaleX(1.0522);transform-origin:0 50%">Min. ~ Maks.</span>
<span class="t" style="left:365.04px;top:581.00px;transform:scaleX(0.9543);transform-origin:100% 50%">°CDB</span>
<span class="t" style="left:666.31px;top:581.00px;transform:scaleX(0.9829);transform-origin:50% 50%">–25 ~ 35</span>
<span class="t" style="left:8.50px;top:595.00px;transform:scaleX(1.1067);transform-origin:0 50%">Czynnik chłodniczy</span>
<span class="t" style="left:122.00px;top:595.00px;transform:scaleX(1.0700);transform-origin:0 50%">Typ</span>
<span class="t" style="left:675.15px;top:595.00px;transform:scaleX(0.9593);transform-origin:50% 50%">R-32</span>
<span class="t" style="left:122.00px;top:609.00px;transform:scaleX(0.9865);transform-origin:0 50%">GWP</span>
<span class="t" style="left:673.47px;top:609.00px;transform:scaleX(0.9816);transform-origin:50% 50%">675,0</span>
<span class="t" style="left:122.00px;top:623.00px;transform:scaleX(1.0700);transform-origin:0 50%">Ilość</span>
<span class="t" style="left:379.73px;top:623.00px;transform:scaleX(1.0307);transform-origin:100% 50%">kg</span>
<span class="t" style="left:676.27px;top:623.00px;transform:scaleX(0.9056);transform-origin:50% 50%">1,50</span>
<span class="t" style="left:122.00px;top:637.00px;transform:scaleX(1.0700);transform-origin:0 50%">Ilość</span>
<span class="t" style="left:352.82px;top:637.00px;transform:scaleX(0.9101);transform-origin:100% 50%">TCO₂Eq</span>
<span class="t c" style="left:676.27px;top:637.00px;transform:scaleX(0.8750);transform-origin:50% 50%">1,01</span>
<span class="t" style="left:122.00px;top:651.00px;transform:scaleX(1.0700);transform-origin:0 50%">Sterowanie</span>
<span class="t" style="left:648.51px;top:651.00px;transform:scaleX(1.0802);transform-origin:50% 50%">Zawór rozprężny</span>
<span class="t" style="left:8.50px;top:665.00px;transform:scaleX(1.0700);transform-origin:0 50%">Poziom mocy</span>
<span class="t" style="left:122.00px;top:665.00px;transform:scaleX(1.0700);transform-origin:0 50%">Ogrzewanie</span>
<span class="t" style="left:249.00px;top:665.00px;transform:scaleX(1.1026);transform-origin:0 50%">Nom.</span>
<span class="t" style="left:371.31px;top:665.00px;transform:scaleX(1.0265);transform-origin:100% 50%">dBA</span>
<span class="t" style="left:487.23px;top:665.00px;transform:scaleX(0.9900);transform-origin:50% 50%">58</span>
<span class="t" style="left:679.88px;top:665.00px;transform:scaleX(0.9900);transform-origin:50% 50%">60</span>
<span class="t" style="left:873.63px;top:665.00px;transform:scaleX(0.9900);transform-origin:50% 50%">62</span>
<span class="t" style="left:8.50px;top:677.00px;transform:scaleX(1.0700);transform-origin:0 50%">akustycznej</span>
<span class="t" style="left:122.00px;top:678.00px;transform:scaleX(1.0700);transform-origin:0 50%">Chłodzenie</span>
<span class="t" style="left:249.00px;top:678.00px;transform:scaleX(1.1026);transform-origin:0 50%">Nom.</span>
<span class="t" style="left:371.31px;top:678.00px;transform:scaleX(1.0265);transform-origin:100% 50%">dBA</span>
<span class="t" style="left:487.23px;top:678.00px;transform:scaleX(0.9900);transform-origin:50% 50%">61</span>
<span class="t" style="left:778.63px;top:678.00px;transform:scaleX(0.9900);transform-origin:50% 50%">62</span>
<span class="t" style="left:8.50px;top:692.00px;transform:scaleX(1.0700);transform-origin:0 50%">Poziom ciśnienia</span>
<span class="t" style="left:122.00px;top:692.00px;transform:scaleX(1.0700);transform-origin:0 50%">Ogrzewanie</span>
<span class="t" style="left:249.00px;top:692.00px;transform:scaleX(1.1026);transform-origin:0 50%">Nom.</span>
<span class="t" style="left:371.31px;top:692.00px;transform:scaleX(1.0265);transform-origin:100% 50%">dBA</span>
<span class="t" style="left:487.23px;top:692.00px;transform:scaleX(0.9900);transform-origin:50% 50%">44</span>
<span class="t" style="left:679.88px;top:692.00px;transform:scaleX(0.9900);transform-origin:50% 50%">47</span>
<span class="t" style="left:873.63px;top:692.00px;transform:scaleX(0.9900);transform-origin:50% 50%">49</span>
<span class="t" style="left:8.50px;top:705.00px;transform:scaleX(1.0700);transform-origin:0 50%">akustycznego</span>
<span class="t" style="left:122.00px;top:706.00px;transform:scaleX(1.0700);transform-origin:0 50%">Chłodzenie</span>
<span class="t" style="left:249.00px;top:706.00px;transform:scaleX(1.1026);transform-origin:0 50%">Nom.</span>
<span class="t" style="left:371.31px;top:706.00px;transform:scaleX(1.0265);transform-origin:100% 50%">dBA</span>
<span class="t" style="left:487.23px;top:706.00px;transform:scaleX(0.9900);transform-origin:50% 50%">48</span>
<span class="t" style="left:679.88px;top:706.00px;transform:scaleX(0.9900);transform-origin:50% 50%">49</span>
<span class="t" style="left:873.63px;top:706.00px;transform:scaleX(0.9900);transform-origin:50% 50%">50</span>
<span class="t" style="left:8.50px;top:720.00px;transform:scaleX(1.0700);transform-origin:0 50%">Zasilanie</span>
<span class="t" style="left:122.00px;top:720.00px;transform:scaleX(1.0786);transform-origin:0 50%">Nazwa/Liczba faz/Częstotliwość/Napięcie</span>
<span class="t" style="left:368.92px;top:720.00px;transform:scaleX(1.0834);transform-origin:100% 50%">Hz/V</span>
<span class="t" style="left:649.48px;top:720.00px;transform:scaleX(1.0350);transform-origin:50% 50%">V3/1N ~ /50/230</span>
<span class="t" style="left:8.50px;top:734.00px;transform:scaleX(1.0700);transform-origin:0 50%">Prąd</span>
<span class="t" style="left:122.00px;top:734.00px;transform:scaleX(1.0673);transform-origin:0 50%">Zalecane bezpieczniki</span>
<span class="t" style="left:384.07px;top:734.00px;transform:scaleX(0.9800);transform-origin:100% 50%">A</span>
<span class="t" style="left:680.48px;top:734.00px;transform:scaleX(0.9900);transform-origin:50% 50%">25</span>
<span class="t f" style="left:6.90px;top:751.00px;transform:scaleX(0.9442);transform-origin:0 50%">(1) Chłodzenie Ta 35°C – LWE 18°C (DT = 5°C),</span>
<span class="t f" style="left:213.20px;top:751.00px;transform:scaleX(0.9704);transform-origin:0 50%">ogrzewanie Ta DB/WB 7°C/6°C – LWC 35°C (DT = 5°C)</span>
<span class="t f" style="left:457.90px;top:751.00px;transform:scaleX(0.9509);transform-origin:0 50%">(2) Chłodzenie Ta 35°C – LWE 7°C (DT = 5°C),</span>
<span class="t f" style="left:660.30px;top:751.00px;transform:scaleX(0.9731);transform-origin:0 50%">ogrzewanie Ta DB/WB 7°C/6°C – LWC 45°C (DT = 5°C).</span>
<span class="t f" style="left:6.90px;top:765.00px;transform:scaleX(1.0270);transform-origin:0 50%">Ten produkt zawiera fluorowane gazy cieplarniane.</span>
</body></html>
